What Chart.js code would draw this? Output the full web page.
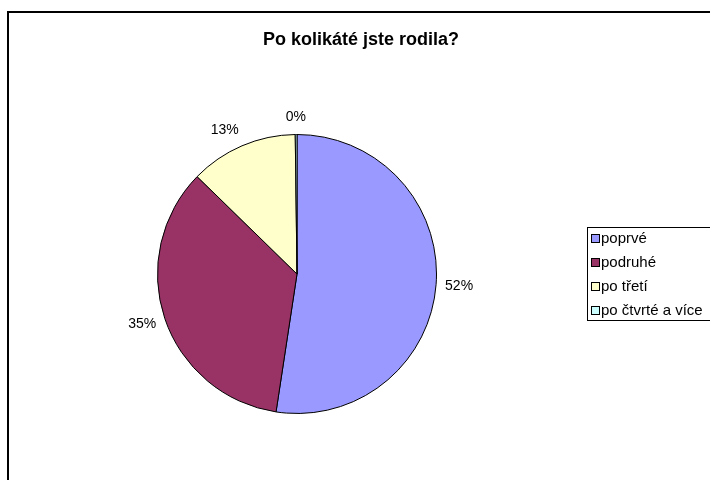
<!DOCTYPE html>
<html>
<head>
<meta charset="utf-8">
<title>Po kolikáté jste rodila?</title>
<script src="https://cdn.jsdelivr.net/npm/chart.js@4"></script>
<style>
    html, body { margin: 0; padding: 0; background: #fff; }
    #wrap { width: 710px; height: 480px; position: relative; }
</style>
</head>
<body>
<div id="wrap"><canvas id="myChart" width="710" height="480"></canvas></div>
<script>
// Answers and their share of respondents (percent)
const titleText = "Po kolikáté jste rodila?";
const categories = ["poprvé", "podruhé", "po třetí", "po čtvrté a více"];
const shares = [52.4, 34.9, 12.5, 0.2];
const sliceColors = ["#9999FF", "#993366", "#FFFFCC", "#CCFFFF"];

const FONT = "Arial, 'Liberation Sans', sans-serif";

// frame, title, legend box and percentage labels drawn on the canvas
const excelLook = {
    id: "excelLook",
    beforeDraw(chart) {
        const ctx = chart.ctx;
        ctx.save();
        ctx.fillStyle = "#fff";
        ctx.fillRect(0, 0, chart.width, chart.height);
        ctx.strokeStyle = "#000";
        ctx.lineWidth = 2;
        ctx.strokeRect(8, 12, 800, 600);
        ctx.restore();
    },
    afterDraw(chart) {
        const ctx = chart.ctx;
        ctx.save();

        // title
        ctx.fillStyle = "#000";
        ctx.font = "bold 18px " + FONT;
        ctx.textAlign = "center";
        ctx.textBaseline = "middle";
        ctx.fillText(titleText, 361, 40);

        // percentage labels outside each slice
        const meta = chart.getDatasetMeta(0);
        const total = shares.reduce((a, b) => a + b, 0);
        ctx.font = "14px " + FONT;
        meta.data.forEach((arc, i) => {
            const p = arc.getProps(["x", "y", "startAngle", "endAngle", "outerRadius"], true);
            const mid = (p.startAngle + p.endAngle) / 2;
            const dx = Math.cos(mid), dy = Math.sin(mid);
            const txt = Math.round(shares[i] / total * 100) + "%";
            const w = ctx.measureText(txt).width;
            const r = p.outerRadius + 9;
            // push the text box sideways so it sits clear of the rim
            const side = Math.max(-1, Math.min(1, dx * 2.5));
            const cx = p.x + dx * r + side * w / 2;
            const cy = p.y + dy * r + dy * 8;
            ctx.fillText(txt, cx, cy);
        });

        // legend
        ctx.strokeStyle = "#000";
        ctx.lineWidth = 1;
        ctx.strokeRect(587.5, 227.5, 200, 93);
        ctx.textAlign = "left";
        ctx.font = "15px " + FONT;
        categories.forEach((name, i) => {
            const y = 239 + i * 24;
            ctx.fillStyle = sliceColors[i];
            ctx.fillRect(592, y - 4, 7, 7);
            ctx.strokeStyle = "#000";
            ctx.strokeRect(591.5, y - 4.5, 8, 8);
            ctx.fillStyle = "#000";
            ctx.fillText(name, 601, y);
        });

        ctx.restore();
    }
};

const ctx = document.getElementById("myChart").getContext("2d");
const myChart = new Chart(ctx, {
    type: "pie",
    data: {
        labels: categories,
        datasets: [{
            data: shares,
            backgroundColor: sliceColors,
            borderColor: "#000",
            borderWidth: 1
        }]
    },
    options: {
        responsive: false,
        animation: false,
        events: [],
        layout: { padding: { left: 157, right: 273, top: 134, bottom: 66 } },
        plugins: {
            legend: { display: false },
            title: { display: false },
            tooltip: { enabled: false }
        }
    },
    plugins: [excelLook]
});
</script>
</body>
</html>
